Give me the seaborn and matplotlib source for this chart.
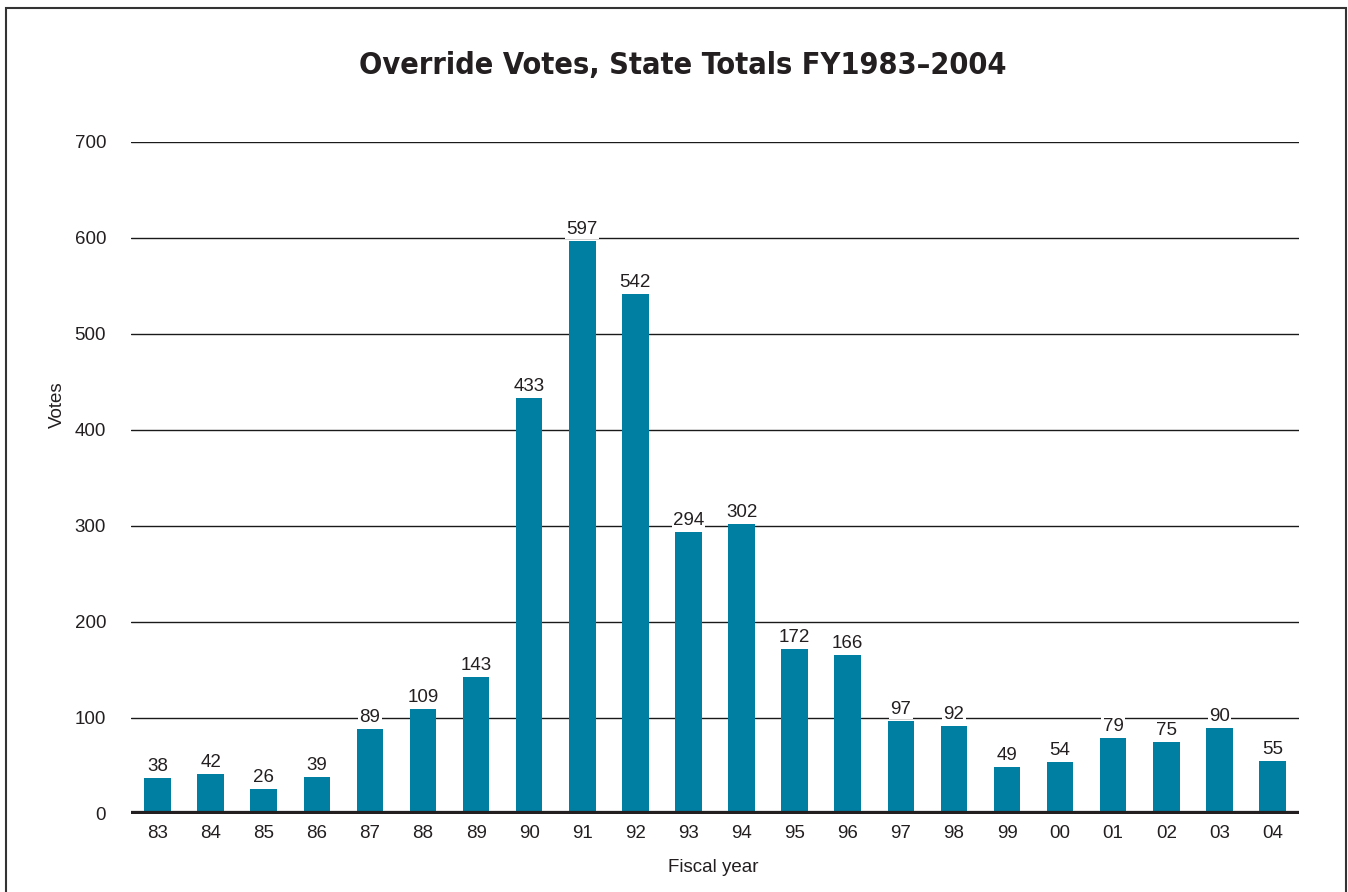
import pandas as pd
import seaborn as sns
import matplotlib.pyplot as plt
from matplotlib.patches import Rectangle

# Data
years = ["83", "84", "85", "86", "87", "88", "89", "90", "91", "92", "93",
         "94", "95", "96", "97", "98", "99", "00", "01", "02", "03", "04"]
votes = [38, 42, 26, 39, 89, 109, 143, 433, 597, 542, 294,
         302, 172, 166, 97, 92, 49, 54, 79, 75, 90, 55]
yticks = [0, 100, 200, 300, 400, 500, 600, 700]

df = pd.DataFrame({"Year": years, "Votes": votes})

sns.set_theme(style="white")
plt.rcParams["font.family"] = ["Liberation Sans", "DejaVu Sans"]

W, H = 1348, 892
fig = plt.figure(figsize=(W / 100, H / 100), dpi=100)
ax = fig.add_axes([131 / W, 1 - 814 / H, (1299 - 131) / W, (814 - 142) / H])

# gridlines
for t in yticks[1:]:
    ax.axhline(t, color="#1a1a1a", lw=1.0, zorder=0)

sns.barplot(data=df, x="Year", y="Votes", color="#007fa3", width=0.5,
            saturation=1, linewidth=0, ax=ax, zorder=2)

# value labels with white background that masks the gridlines
for i, v in enumerate(votes):
    ax.text(i, v + 3, str(v), ha="center", va="bottom", fontsize=13.5,
            color="#231f20", zorder=3,
            bbox=dict(facecolor="white", edgecolor="none", pad=1.0))

ax.axhline(0, color="#231f20", lw=4.5, zorder=4, solid_capstyle="butt")

ax.set_xlim(-0.5, len(years) - 0.5)
ax.set_ylim(0, 700)
ax.set_yticks(yticks)
ax.tick_params(axis="both", length=0, labelsize=13.5, colors="#231f20")
ax.tick_params(axis="y", pad=18)
ax.tick_params(axis="x", pad=8)
for s in ax.spines.values():
    s.set_visible(False)
ax.set_xlabel("")
ax.set_ylabel("")

fig.text(57 / W, 1 - 405 / H, "Votes", rotation=90, ha="center", va="center",
         fontsize=13.5, color="#231f20")
fig.text(713 / W, 1 - 867 / H, "Fiscal year", ha="center", va="center",
         fontsize=13.5, color="#231f20")
fig.text(683 / W, 1 - 66 / H, "Override Votes, State Totals FY1983\u20132004",
         ha="center", va="center", fontsize=22, fontweight="bold",
         fontstretch="condensed", color="#231f20",
         family=["DejaVu Sans"])

# frame around the figure
fig.patches.append(Rectangle((6 / W, -0.05), (1346 - 6) / W, 1.05 - 8 / H,
                             transform=fig.transFigure, fill=False,
                             edgecolor="#333333", lw=1.5))

fig.savefig("out.png", dpi=100)
